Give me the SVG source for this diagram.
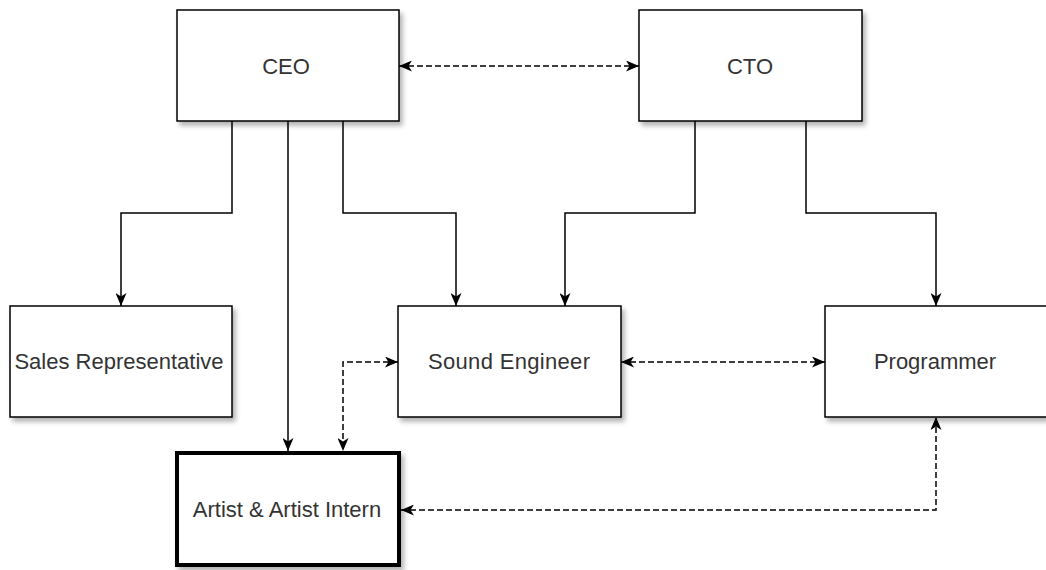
<svg xmlns="http://www.w3.org/2000/svg" width="1046" height="570" viewBox="0 0 1046 570">
<style>
.box{fill:#fff;stroke:#000;stroke-width:1.5}
.thick{stroke-width:4}
.lbl{font-family:"Liberation Sans",Arial,sans-serif;font-size:22px;fill:#333;text-anchor:middle}
.edge{fill:none;stroke:#000;stroke-width:1.5}
.dash{stroke-dasharray:6 3}
</style>
<defs>
<filter id="sh" x="-10%" y="-10%" width="130%" height="140%">
<feGaussianBlur in="SourceAlpha" stdDeviation="2.5"/>
<feOffset dx="3" dy="4" result="b"/>
<feComponentTransfer><feFuncA type="linear" slope="0.3"/></feComponentTransfer>
<feMerge><feMergeNode/><feMergeNode in="SourceGraphic"/></feMerge>
</filter>
<marker id="arr" viewBox="0 0 13 11" refX="13" refY="5.5" markerWidth="13" markerHeight="11" markerUnits="userSpaceOnUse" orient="auto-start-reverse">
<path d="M0,0 L13,5.5 L0,11 L3.5,5.5 Z" fill="#000"/>
</marker>
</defs>
<rect width="1046" height="570" fill="#fff"/>
<g id="connectors">
<path class="edge" d="M232,121 V213 H121 V306" marker-end="url(#arr)"/>
<path class="edge" d="M288,121 V451" marker-end="url(#arr)"/>
<path class="edge" d="M343,121 V213 H456 V306" marker-end="url(#arr)"/>
<path class="edge" d="M695,121 V213 H565 V306" marker-end="url(#arr)"/>
<path class="edge" d="M806,121 V213 H936 V306" marker-end="url(#arr)"/>
<path class="edge dash" d="M399,66 H639" marker-start="url(#arr)" marker-end="url(#arr)"/>
<path class="edge dash" d="M621,362 H825" marker-start="url(#arr)" marker-end="url(#arr)"/>
<path class="edge dash" d="M398,362 H343 V451" marker-start="url(#arr)" marker-end="url(#arr)"/>
<path class="edge dash" d="M401,510 H936 V417" marker-start="url(#arr)" marker-end="url(#arr)"/>
</g>
<g id="ceo"><rect class="box" x="177" y="10" width="222" height="111" filter="url(#sh)"/><text class="lbl" x="286" y="74">CEO</text></g>
<g id="cto"><rect class="box" x="639" y="10" width="223" height="111" filter="url(#sh)"/><text class="lbl" x="750" y="74">CTO</text></g>
<g id="sales"><rect class="box" x="10" y="306" width="222" height="111" filter="url(#sh)"/><text class="lbl" x="119" y="369">Sales Representative</text></g>
<g id="sound"><rect class="box" x="398" y="306" width="223" height="111" filter="url(#sh)"/><text class="lbl" x="509" y="369" textLength="162" lengthAdjust="spacing">Sound Engineer</text></g>
<g id="programmer"><rect class="box" x="825" y="306" width="222" height="111" filter="url(#sh)"/><text class="lbl" x="935" y="369">Programmer</text></g>
<g id="artist"><rect class="box thick" x="177" y="453" width="222" height="112" filter="url(#sh)"/><text class="lbl" x="287" y="517">Artist &amp; Artist Intern</text></g>
</svg>
